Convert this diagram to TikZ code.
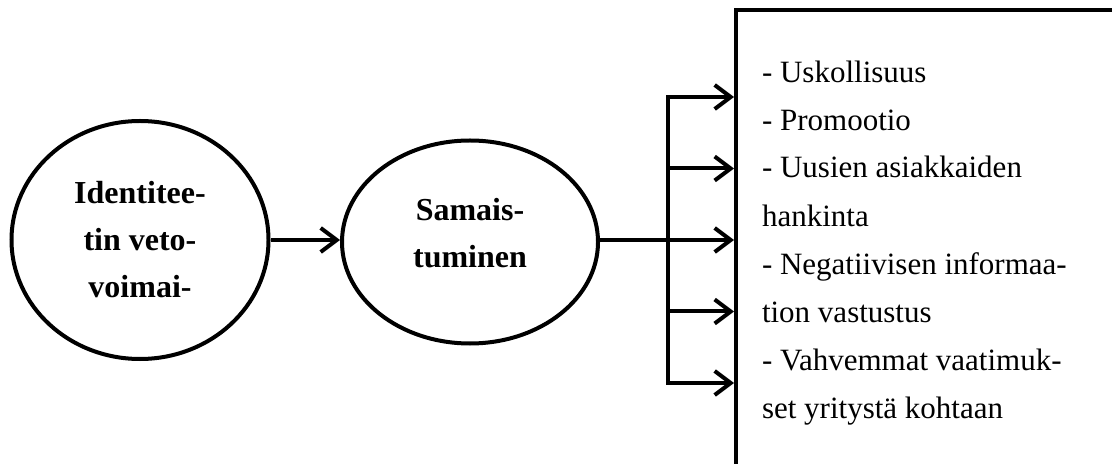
\documentclass[tikz,border=0pt]{standalone}
\usepackage{fontspec}
\setmainfont{Liberation Serif}
\usetikzlibrary{arrows.meta,shapes.geometric,positioning}

\begin{document}
\begin{tikzpicture}[x=0.5pt, y=-0.5pt, line width=2pt, >={Straight Barb[length=8pt,width=12pt]},
  oval/.style={draw, ellipse, inner sep=0pt},
  bold/.style={font=\rmfamily\fontsize{16}{23.5}\selectfont\bfseries, align=center},
  lst/.style={font=\rmfamily\fontsize{15.5}{24}\selectfont, align=left, inner sep=0pt}]
\useasboundingbox (0,0) rectangle (1112,464);
\clip (0,0) rectangle (1112,464);

%ellipses
\node[oval, bold, minimum width=128.5pt, minimum height=119pt] (ident) at (140,240) {Identitee-\\tin veto-\\voimai-};
\node[oval, minimum width=128pt, minimum height=101.5pt] (samais) at (470,242) {};
\node[bold] (samaislbl) at (470,233) {Samais-\\tuminen};

%outcome box
\node[draw, anchor=north west, minimum width=200pt, minimum height=228.5pt] (outcome) at (734,8) {};
\node[lst, anchor=base west] (items) at (760,418) {- Uskollisuus\\- Promootio\\- Uusien asiakkaiden\\hankinta\\- Negatiivisen informaa-\\tion vastustus\\- Vahvemmat vaatimuk-\\set yritystä kohtaan};

%arrows
\coordinate (split) at (668,240);
\coordinate (top) at (668,97);
\coordinate (bot) at (668,383);
\draw[->] (ident.east |- split) -- (samais.west |- split);
\draw[->] (samais.east |- split) -- (outcome.west |- split);
\draw[<->] (outcome.west |- top) -- (top) -- (bot) -- (outcome.west |- bot);
\foreach \y in {168.5, 311.5}{\draw[->] (split |- 0,\y) -- (outcome.west |- 0,\y);}
\end{tikzpicture}
\end{document}
